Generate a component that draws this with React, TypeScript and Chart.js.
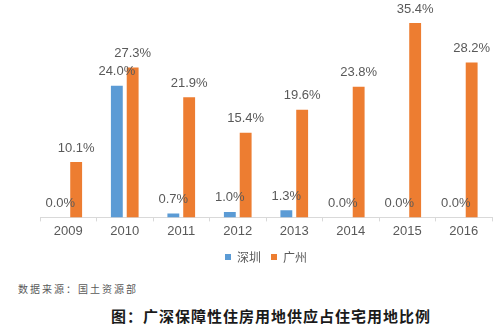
import React, { useEffect, useRef } from "react";
import { Chart, registerables } from "chart.js";

Chart.register(...registerables);

const years = ["2009", "2010", "2011", "2012", "2013", "2014", "2015", "2016"];
const shenzhen = [0.0, 24.0, 0.7, 1.0, 1.3, 0.0, 0.0, 0.0];
const guangzhou = [10.1, 27.3, 21.9, 15.4, 19.6, 23.8, 35.4, 28.2];
const seriesNames = ["深圳", "广州"];
const sourceText = "数据来源：国土资源部";
const titleText = "图：广深保障性住房用地供应占住宅用地比例";

const NUM_FONT = "'Liberation Sans Narrow', 'Liberation Sans', Arial, sans-serif";

const labelPlugin = {
  id: "valueLabels",
  afterDatasetsDraw(chart: any) {
    const ctx = chart.ctx;
    ctx.save();
    ctx.font = `13px ${NUM_FONT}`;
    ctx.fillStyle = "#595959";
    ctx.textAlign = "center";
    ctx.textBaseline = "middle";
    chart.data.datasets.forEach((ds: any, i: number) => {
      const meta = chart.getDatasetMeta(i);
      meta.data.forEach((el: any, j: number) => {
        const v = ds.data[j];
        ctx.fillText(v.toFixed(1) + "%", el.x, el.y - 14);
      });
    });
    ctx.restore();
  },
};

export default function App() {
  const ref = useRef<HTMLCanvasElement>(null);
  useEffect(() => {
    document.body.style.margin = "0";
    const chart = new Chart(ref.current!, {
      type: "bar",
      data: {
        labels: years,
        datasets: [
          {
            label: seriesNames[0],
            data: shenzhen,
            backgroundColor: "#5B9BD5",
            categoryPercentage: 0.56,
            barPercentage: 0.75,
          },
          {
            label: seriesNames[1],
            data: guangzhou,
            backgroundColor: "#ED7D31",
            categoryPercentage: 0.56,
            barPercentage: 0.75,
          },
        ],
      },
      options: {
        animation: false,
        responsive: false,
        maintainAspectRatio: false,
        layout: { padding: { left: 40, right: 9, top: 0, bottom: 0 } },
        scales: {
          x: {
            grid: {
              display: true,
              drawOnChartArea: false,
              drawTicks: true,
              tickLength: 4,
              color: "#d9d9d9",
            },
            border: { display: true, color: "#d9d9d9", width: 1 },
            ticks: {
              color: "#595959",
              font: { family: NUM_FONT, size: 13 },
              padding: 2,
            },
          },
          y: {
            display: false,
            min: 0,
            max: 39.6,
          },
        },
        plugins: {
          legend: {
            position: "bottom",
            labels: {
              boxWidth: 6,
              boxHeight: 6,
              color: "#595959",
              font: { family: "'Noto Sans CJK SC', sans-serif", size: 12 },
              padding: 10,
            },
          },
          tooltip: { enabled: false },
        },
      },
      plugins: [labelPlugin],
    });
    return () => chart.destroy();
  }, []);

  return (
    <div style={{ position: "relative", width: 501, height: 336, background: "#fff", overflow: "hidden" }}>
      <canvas ref={ref} width={501} height={273} style={{ position: "absolute", left: 0, top: 0 }} />
      <div
        style={{
          position: "absolute",
          left: 18,
          top: 281,
          fontFamily: "'Noto Sans CJK SC', sans-serif",
          fontSize: 10,
          letterSpacing: 2,
          color: "#595959",
          whiteSpace: "nowrap",
          lineHeight: "16px",
        }}
      >
        {sourceText}
      </div>
      <div
        style={{
          position: "absolute",
          left: 111,
          top: 306,
          fontFamily: "'Noto Sans CJK SC', sans-serif",
          fontSize: 15,
          fontWeight: "bold",
          letterSpacing: 1,
          color: "#1a1a1a",
          whiteSpace: "nowrap",
          lineHeight: "20px",
        }}
      >
        {titleText}
      </div>
    </div>
  );
}
